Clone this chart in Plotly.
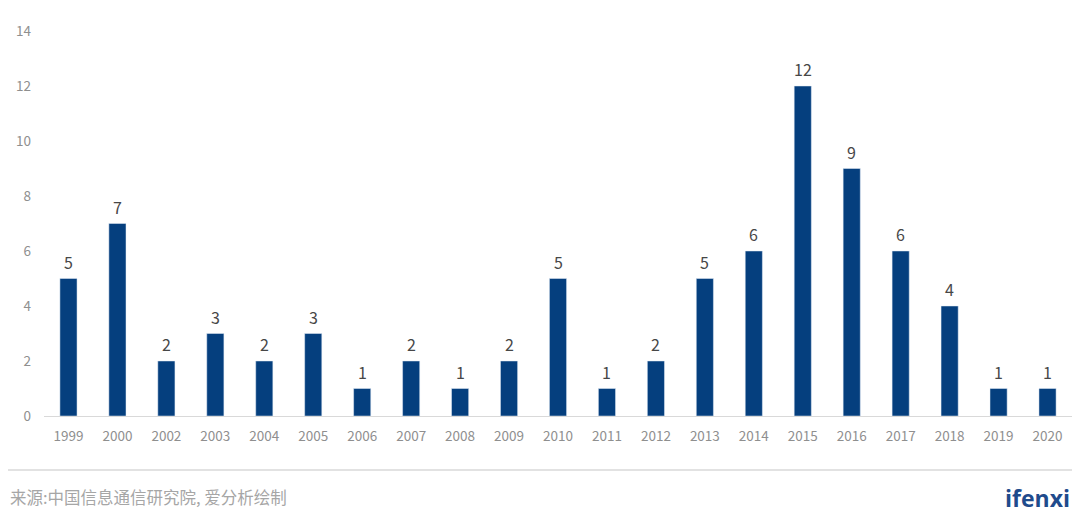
import plotly.graph_objects as go

# Data
years = ['1999', '2000', '2002', '2003', '2004', '2005', '2006', '2007', '2008', '2009',
         '2010', '2011', '2012', '2013', '2014', '2015', '2016', '2017', '2018', '2019', '2020']
counts = [5, 7, 2, 3, 2, 3, 1, 2, 1, 2, 5, 1, 2, 5, 6, 12, 9, 6, 4, 1, 1]
y_ticks = [0, 2, 4, 6, 8, 10, 12, 14]

source_text = '来源:中国信息通信研究院, 爱分析绘制'
logo_text = 'ifenxi'

font_family = 'Noto Sans CJK SC, Noto Sans, sans-serif'

fig = go.Figure(go.Bar(
    x=years,
    y=counts,
    marker_color='#053f7e',
))

# value labels sit a bit higher above the bars than plotly's 'outside' text.
# On a category axis the year strings would be read as indices, so use the position.
for i, count in enumerate(counts):
    fig.add_annotation(x=i, y=count, text=str(count), showarrow=False,
                       yanchor='bottom', yshift=3,
                       font=dict(size=16, color='#474747'))

# the page adds an 8px body margin, so the figure is 8px smaller than the window
fig.update_layout(
    width=1072,
    height=513,
    margin=dict(l=36, r=8, t=23, b=105),
    paper_bgcolor='white',
    plot_bgcolor='white',
    bargap=0.65,
    showlegend=False,
    font=dict(family=font_family),
)

fig.update_xaxes(
    type='category',
    showline=True,
    linecolor='#d9d9d9',
    linewidth=1,
    showgrid=False,
    ticks='',
    ticklabelstandoff=8,
    tickfont=dict(size=13.5, color='#8f8f8f'),
)
fig.update_yaxes(
    range=[0, 14],
    tickvals=y_ticks,
    showgrid=False,
    zeroline=False,
    showline=False,
    ticks='',
    ticklabelstandoff=12,
    tickfont=dict(size=13.5, color='#8f8f8f'),
)

# Footer: divider line, source note and logo
fig.add_shape(type='line', xref='paper', yref='paper',
              x0=-36 / 1028, x1=1.01, y0=-54 / 385, y1=-54 / 385,
              line=dict(color='#d9d9d9', width=1.5))
fig.add_annotation(text=source_text, xref='paper', yref='paper',
                   x=-36 / 1028, y=-81 / 385, xanchor='left', yanchor='middle',
                   showarrow=False, font=dict(size=16.5, color='#a6a6a6'))
fig.add_annotation(text='<b>' + logo_text + '</b>', xref='paper', yref='paper',
                   x=1.0, y=-82 / 385, xanchor='right', yanchor='middle',
                   showarrow=False,
                   font=dict(size=23, color='#1f4b8c', family='Open Sans, sans-serif'))

fig.write_html('out.html')
